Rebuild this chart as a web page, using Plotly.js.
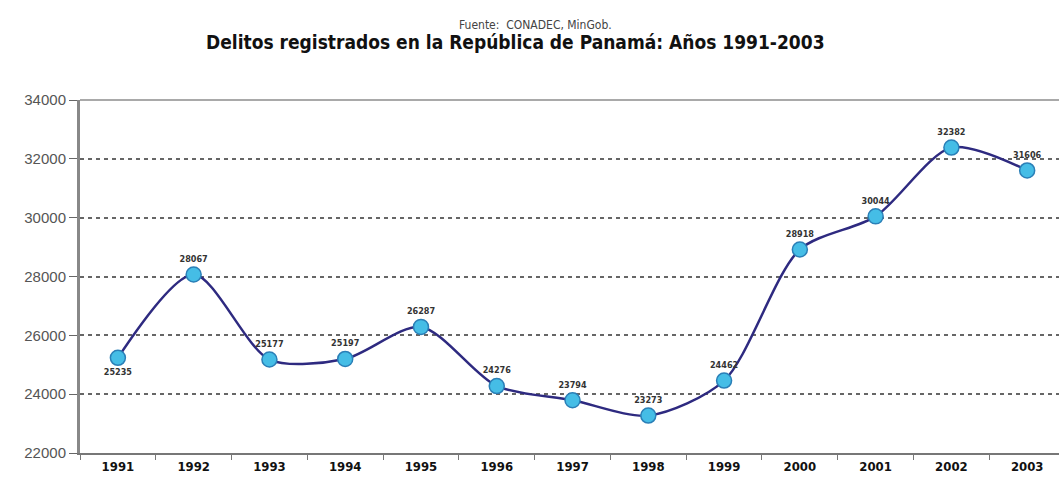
<!DOCTYPE html>
<html>
<head>
<meta charset="utf-8">
<script src="https://cdn.plot.ly/plotly-3.0.1.min.js"></script>
<style>
html,body{margin:0;padding:0;background:#fff;overflow:hidden;}
#chart{width:1059px;height:488px;}
</style>
</head>
<body>
<div id="chart"></div>
<script>
const years = ['1991','1992','1993','1994','1995','1996','1997','1998','1999','2000','2001','2002','2003'];
const delitos = [25235, 28067, 25177, 25197, 26287, 24276, 23794, 23273, 24462, 28918, 30044, 32382, 31606];
const yTicks = [22000, 24000, 26000, 28000, 30000, 32000, 34000];
const sourceText = 'Fuente:  CONADEC, MinGob.';
const titleText = 'Delitos registrados en la República de Panamá: Años 1991-2003';

const labelPos = years.map((y, i) => i === 0 ? 'bottom center' : 'top center');

const trace = {
  type: 'scatter',
  mode: 'lines+markers+text',
  x: years,
  y: delitos,
  text: delitos.map(v => String(v)),
  textposition: labelPos,
  textfont: {family: 'DejaVu Sans Condensed, Arial', size: 9, color: '#333', weight: 'bold'},
  line: {shape: 'spline', smoothing: 0.8, color: '#2E2A80', width: 2.5},
  marker: {size: 15, color: '#45BDE6', line: {color: '#2A7FB7', width: 1.5}},
  cliponaxis: false,
  hoverinfo: 'x+y'
};

const layout = {
  width: 1059,
  height: 488,
  margin: {l: 80, r: 0, t: 100, b: 35},
  paper_bgcolor: '#fff',
  plot_bgcolor: '#fff',
  showlegend: false,
  font: {family: 'Liberation Sans, Arial', color: '#333'},
  xaxis: {
    type: 'category',
    range: [-0.5, 12.42],
    showgrid: false,
    showline: true,
    linecolor: '#777',
    linewidth: 2,
    ticks: 'outside',
    tickson: 'boundaries',
    ticklen: 5,
    tickcolor: '#777',
    tickfont: {family: 'DejaVu Sans Condensed, Arial', size: 13, color: '#111', weight: 'bold'},
    zeroline: false,
    fixedrange: true
  },
  yaxis: {
    range: [22000, 34000],
    tickvals: yTicks,
    ticktext: yTicks.map(v => String(v)),
    showgrid: true,
    gridcolor: '#666',
    griddash: '4px,4px',
    gridwidth: 2,
    showline: true,
    linecolor: '#888',
    linewidth: 3,
    ticks: 'outside',
    ticklen: 8,
    tickcolor: '#666',
    tickfont: {family: 'Liberation Sans, Arial', size: 15, color: '#555'},
    zeroline: false,
    fixedrange: true
  },
  shapes: [
    {type: 'line', xref: 'paper', yref: 'paper', x0: 0, x1: 1, y0: 1, y1: 1, line: {color: '#555', width: 1.2}}
  ],
  annotations: [
    {text: sourceText, xref: 'paper', yref: 'paper', x: 0.465, y: 1.0, yanchor: 'bottom', xanchor: 'center',
     yshift: 66, showarrow: false, font: {family: 'DejaVu Sans Condensed, Arial', size: 12, color: '#444'}},
    {text: titleText, xref: 'paper', yref: 'paper', x: 0.445, y: 1.0, yanchor: 'bottom', xanchor: 'center',
     yshift: 45, showarrow: false, font: {family: 'DejaVu Sans Condensed, Arial', size: 19, color: '#111', weight: 'bold'}}
  ]
};

Plotly.newPlot('chart', [trace], layout, {displayModeBar: false, staticPlot: true});
</script>
</body>
</html>
